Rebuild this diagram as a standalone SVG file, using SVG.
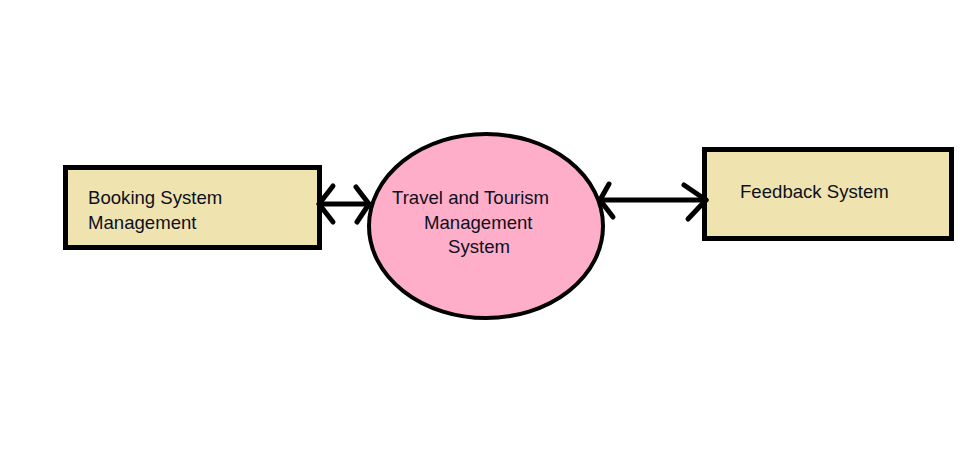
<svg xmlns="http://www.w3.org/2000/svg" width="975" height="460" viewBox="0 0 975 460">
<style>
.box{fill:#EFE4B0;stroke:#000;stroke-width:5}
.proc{fill:#FFAEC9;stroke:#000;stroke-width:4}
.lbl{font-family:"Liberation Sans",Arial,sans-serif;font-size:18.6px;fill:#0d1020}
.con{fill:none;stroke:#000;stroke-width:5;stroke-linecap:round;stroke-linejoin:round}
</style>
<rect width="975" height="460" fill="#fff"/>
<g id="booking">
<rect class="box" x="65.5" y="167.5" width="254" height="80"/>
<text class="lbl" x="88" y="204">Booking System</text>
<text class="lbl" x="88" y="229">Management</text>
</g>
<g id="travel">
<ellipse class="proc" cx="486" cy="226" rx="117" ry="92"/>
<text class="lbl" x="392" y="204">Travel and Tourism</text>
<text class="lbl" x="424" y="229">Management</text>
<text class="lbl" x="448" y="253">System</text>
</g>
<g id="feedback">
<rect class="box" x="704.5" y="149.5" width="247" height="89"/>
<text class="lbl" x="740" y="198">Feedback System</text>
</g>
<g id="connectors">
<path class="con" d="M319 204 H369"/>
<path class="con" d="M333 186 L319 204 L333 222"/>
<path class="con" d="M356 187 L369 204 L357 222"/>
<path class="con" d="M600 200 H706"/>
<path class="con" d="M609 184 L600 200 L613 217"/>
<path class="con" d="M684 185 L706 200 L688 219"/>
</g>
</svg>
